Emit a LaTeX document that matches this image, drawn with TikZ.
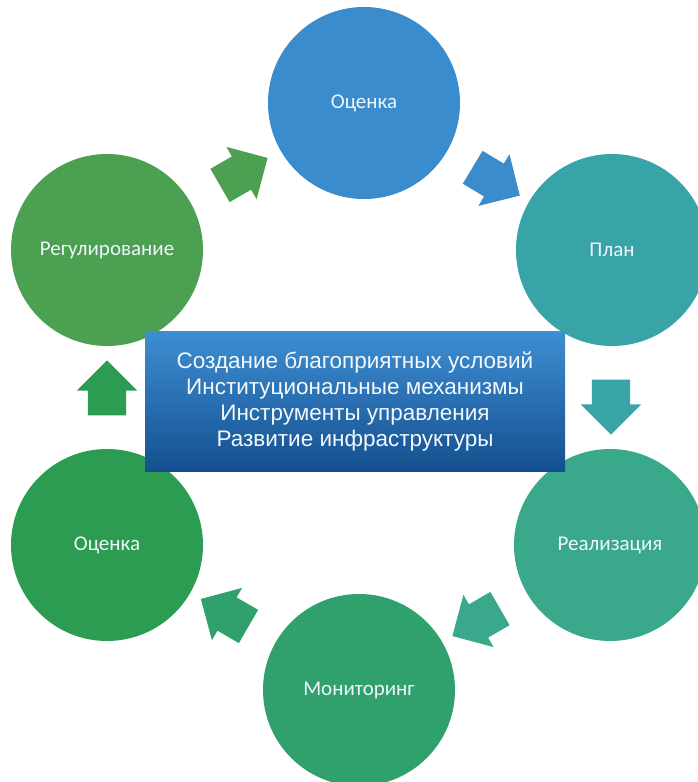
\documentclass[tikz,border=0pt]{standalone}
\usepackage{fontspec}
\setmainfont{Carlito}
\newfontfamily\panelfont{Liberation Sans}
\usetikzlibrary{calc,shapes.arrows}
\definecolor{cTop}{RGB}{58,140,204}
\definecolor{cPlan}{RGB}{56,164,168}
\definecolor{cReal}{RGB}{58,168,138}
\definecolor{cMon}{RGB}{48,160,108}
\definecolor{cOc}{RGB}{44,156,82}
\definecolor{cReg}{RGB}{76,160,82}
\definecolor{panelTop}{RGB}{62,142,210}
\definecolor{panelBot}{RGB}{20,80,144}
\tikzset{%
	stage/.style = {circle,inner sep=0,minimum size=192pt,text=white!92!cTop,font=\fontsize{21}{24}\selectfont},
	pointer/.style = {single arrow,inner xsep=0,inner ysep=19pt,minimum height=55pt,minimum width=60pt,single arrow head extend=11pt},
	panel/.style = {rectangle,inner sep=0,minimum width=420pt,minimum height=140pt,top color=panelTop,bottom color=panelBot,
		text=white!94!panelTop,align=center,font=\panelfont\fontsize{22.5}{26}\selectfont}%
}
\begin{document}
\begin{tikzpicture}[x=1pt,y=-1pt]
	\useasboundingbox (0,0) rectangle (697,782);
	
	\node(top)[stage,fill=cTop] at (364,103) {Оценка};
	\node(plan)[stage,fill=cPlan] at (612,250) {План};
	\node(real)[stage,fill=cReal] at (610,545) {Реализация};
	\node(mon)[stage,fill=cMon] at (359,690) {Мониторинг};
	\node(oc)[stage,fill=cOc] at (107,545) {Оценка};
	\node(reg)[stage,fill=cReg] at (107,250) {Регулирование};
	
	% arrows between the stages
	\node(a1)[pointer,fill=cReg,rotate=30] at ($(reg)!.5!(top)$) {};
	\node(a2)[pointer,fill=cTop,rotate=-31] at ($(top)!.5!(plan)$) {};
	\node(a3)[pointer,fill=cPlan,rotate=-90] at ($(plan)!.5!(real)$) {};
	\node(a4)[pointer,fill=cReal,rotate=210] at ($(real)!.5!(mon)$) {};
	\node(a5)[pointer,fill=cMon,rotate=150] at ($(mon)!.5!(oc)$) {};
	\node(a6)[pointer,fill=cOc,rotate=90] at ($(oc)!.5!(reg)$) {};
	
	\node(core)[panel] at (355,401) {Создание благоприятных условий\\Институциональные механизмы\\Инструменты управления\\Развитие инфраструктуры};
\end{tikzpicture}
\end{document}
